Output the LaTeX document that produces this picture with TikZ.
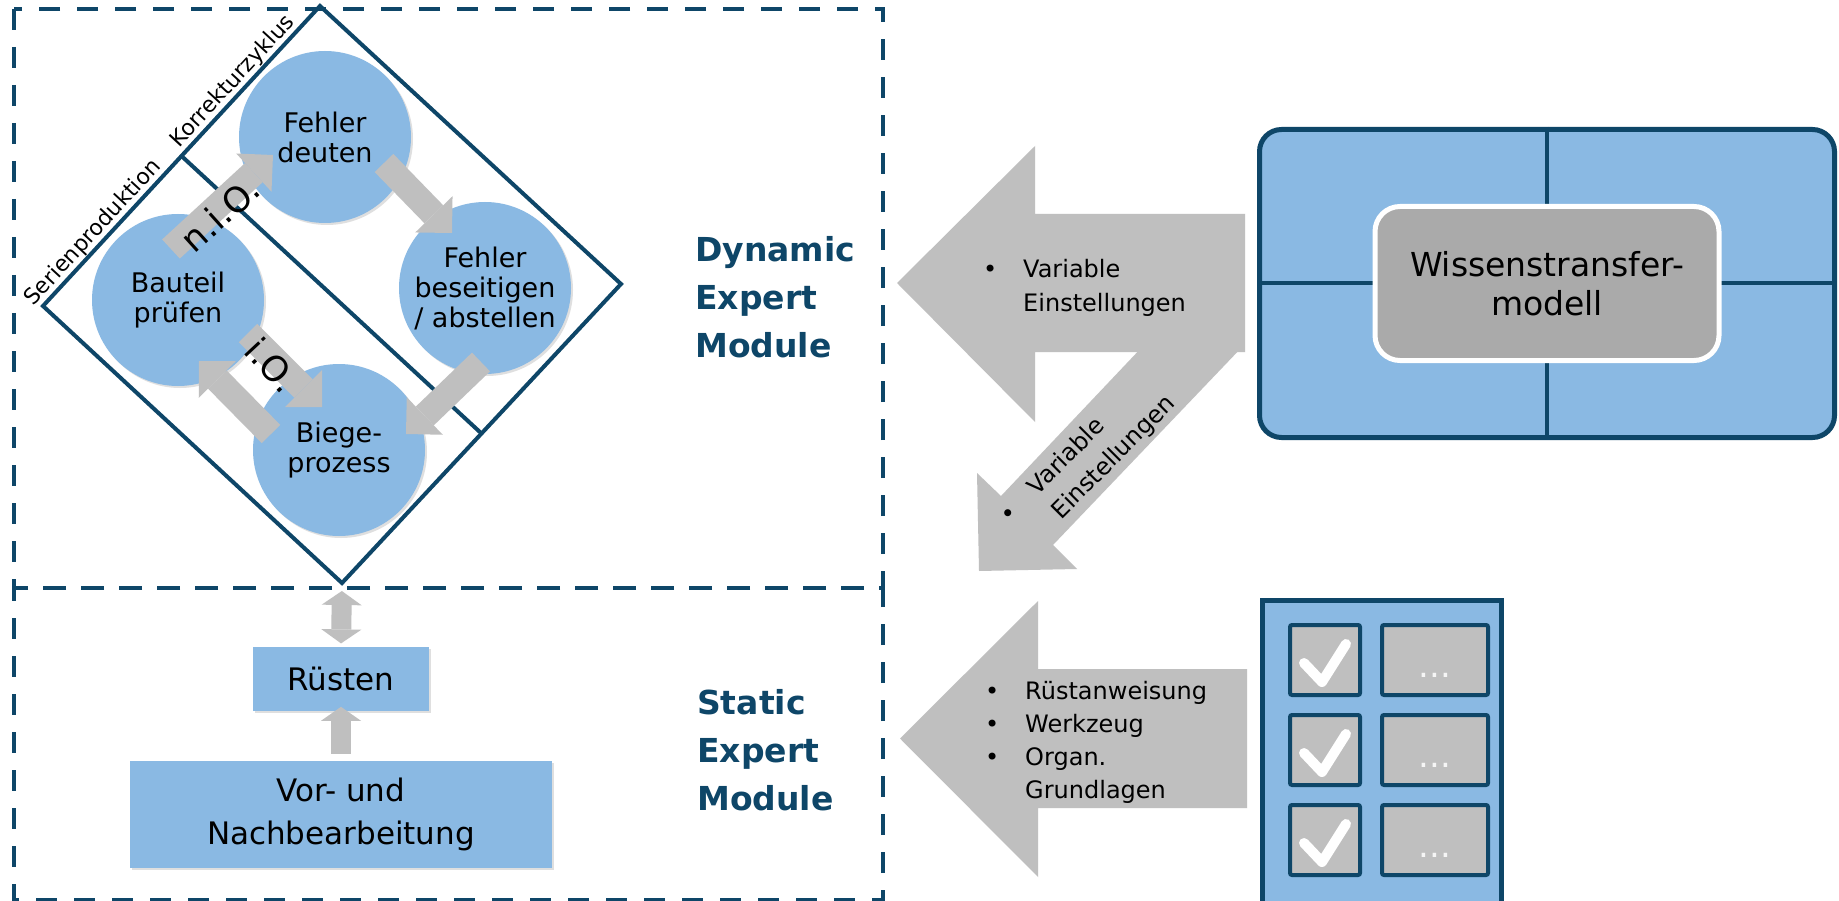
\documentclass[tikz,border=0pt]{standalone}
\usepackage{fontspec}
\setmainfont{DejaVu Sans}
\usetikzlibrary{positioning, arrows.meta, calc, shadows}

\definecolor{modblue}{RGB}{14,70,104}
\definecolor{lightblue}{RGB}{138,185,227}
\definecolor{arrowgray}{RGB}{191,191,191}
\definecolor{modelgray}{RGB}{170,170,170}

\newcommand{\fs}[2]{\fontsize{#1}{#2}\selectfont}
\newcommand{\itm}{\makebox[40pt][l]{\textbullet}}
\newcommand{\noitm}{\hspace*{40pt}}

\begin{document}
\begin{tikzpicture}[
    x=1pt, y=-1pt,
    modframe/.style={draw=modblue, line width=4pt, dash pattern=on 21pt off 17pt},
    cycleline/.style={draw=modblue, line width=4pt},
    softshadow/.style={drop shadow={shadow xshift=2pt, shadow yshift=-2pt, opacity=0.25}},
    stepcircle/.style={
        circle,
        fill=lightblue,
        minimum size=172pt,
        inner sep=0pt,
        align=center,
        font=\fs{27}{30},
        softshadow
    },
    flowarrow/.style={draw=arrowgray, line width=26pt,
        -{Triangle[length=26pt, width=52pt, line width=0pt]}},
    linkarrow/.style={draw=arrowgray, line width=20pt,
        {Triangle[length=14pt, width=40pt, line width=0pt]}-{Triangle[length=14pt, width=40pt, line width=0pt]}},
    uparrow/.style={draw=arrowgray, line width=20pt,
        -{Triangle[length=14pt, width=40pt, line width=0pt]}},
    bigarrow/.style={fill=arrowgray},
    iolabel/.style={font=\fs{35}{35}, inner sep=0pt},
    edgelabel/.style={font=\fs{22}{22}, inner sep=2pt},
    modlabel/.style={font=\fs{33}{48}\bfseries, text=modblue, align=left, inner sep=0pt},
    procbox/.style={rectangle, fill=lightblue, align=center, font=\fs{31}{43}, softshadow},
    listtext/.style={font=\fs{24}{34}, align=left, inner sep=0pt},
    wissbox/.style={rectangle, rounded corners=22pt, draw=modblue, line width=5pt, fill=lightblue,
        minimum width=575pt, minimum height=308pt},
    crossline/.style={draw=modblue, line width=4pt},
    modelbox/.style={rectangle, rounded corners=25pt, draw=white, line width=5pt, fill=modelgray,
        minimum width=344pt, minimum height=154pt, align=center, font=\fs{33}{39}},
    checklist/.style={rectangle, draw=modblue, line width=5pt, fill=lightblue,
        minimum width=239pt, minimum height=309pt},
    cell/.style={rectangle, rounded corners=2pt, draw=modblue, line width=4pt, fill=arrowgray,
        minimum height=70pt, inner sep=0pt},
    dotcell/.style={cell, minimum width=106pt, font=\fs{34}{34}, text=white!92!gray,
        text height=34pt, text depth=0pt},
    checkmark/.style={draw=white, line width=10pt, line cap=round, line join=round}
]

    \path[use as bounding box, fill=white] (0,0) rectangle (1839,901);

    % --- module frames ---
    \draw[modframe] (14,9) rectangle (883,588);
    \draw[modframe, dash phase=8pt] (14,588) rectangle (883,900);

    % --- cycle diamond ---
    \coordinate (dTop)   at (320,6);
    \coordinate (dRight) at (621,284);
    \coordinate (dBot)   at (342,583);
    \coordinate (dLeft)  at (43,306);
    \coordinate (divA) at ($(dLeft)!0.5!(dTop)$);
    \coordinate (divB) at ($(dBot)!0.5!(dRight)$);

    \draw[cycleline] (dTop) -- (dRight) -- (dBot) -- (dLeft) -- cycle;
    \draw[cycleline] (divA) -- (divB);

    \path (divA) -- (dTop) node[edgelabel, pos=0.44, sloped, above] (korr) {Korrekturzyklus};
    \path (dLeft) -- (divA) node[edgelabel, pos=0.43, sloped, above] (serie) {Serienproduktion};

    \node[stepcircle] (deuten)     at (325,137) {Fehler\\deuten};
    \node[stepcircle] (beseitigen) at (485,288) {Fehler\\beseitigen\\/ abstellen};
    \node[stepcircle] (bauteil)    at (178,300) {Bauteil\\prüfen};
    \node[stepcircle] (biege)      at (339,450) {Biege-\\prozess};

    \draw[flowarrow] ([shift={(-7,-51)}]bauteil.center) -- ([shift={(-52,18)}]deuten.center);
    \draw[flowarrow] ([shift={(59,26)}]deuten.center) -- ([shift={(-33,-55)}]beseitigen.center);
    \draw[flowarrow] ([shift={(-4,74)}]beseitigen.center) -- ([shift={(67,-16)}]biege.center);
    \draw[flowarrow] ([shift={(70,33)}]bauteil.center) -- ([shift={(-17,-43)}]biege.center);
    \draw[flowarrow] ([shift={(-68,-16)}]biege.center) -- ([shift={(21,61)}]bauteil.center);

    \node[iolabel, rotate=42] (nio) at (220,214) {n.i.O.};
    \node[iolabel, rotate=-47] (io) at (272,365) {i.O.};

    % --- static part ---
    \node[procbox, minimum width=422pt, minimum height=107pt] (vor) at (341,814.5) {Vor- und\\Nachbearbeitung};
    \node[procbox, minimum width=176pt, minimum height=64pt, above=50pt of vor] (ruesten) {Rüsten};

    \draw[linkarrow, shorten <=8pt, shorten >=3pt] (dBot) -- (ruesten.north);
    \draw[uparrow, shorten <=7pt, shorten >=-4pt] (vor.north) -- (ruesten.south);

    \node[modlabel, anchor=west] (dyn)  at (695,297.5) {Dynamic\\Expert\\Module};
    \node[modlabel, anchor=west] (stat) at (697,750) {Static\\Expert\\Module};

    % --- knowledge transfer model ---
    \node[wissbox] (wiss) at (1547,283.5) {};
    \draw[crossline] (wiss.north) -- (wiss.south);
    \draw[crossline] (wiss.west) -- (wiss.east);
    \node[modelbox] (model) at (wiss.center) {Wissenstransfer-\\modell};

    \fill[bigarrow] (897,283) -- (1035,146) -- (1035,214) -- (1245,214) -- (1245,352)
        -- (1035,352) -- (1035,422) -- cycle;
    \fill[bigarrow] (1144,345) -- (1001,496) -- (977,473) -- (979,571) -- (1077,569)
        -- (1053,545) -- (1244,345) -- cycle;

    \node[listtext, anchor=west] (varlist) at (983,288) {\itm Variable\\\noitm Einstellungen};
    \node[listtext, rotate=45] (varlistb) at (1088,460) {\itm Variable\\\noitm Einstellungen};

    % --- checklist ---
    \fill[bigarrow] (900,738.5) -- (1038,601) -- (1038,669) -- (1247,669) -- (1247,808)
        -- (1038,808) -- (1038,877) -- cycle;
    \node[listtext, font=\fs{24}{33}, anchor=west] (ruestlist) at (985,742)
        {\itm Rüstanweisung\\\itm Werkzeug\\\itm Organ.\\\noitm Grundlagen};

    \node[checklist] (chk) at (1382,755) {};
    \node[cell, minimum width=70pt] (c1) at (1325,660) {};
    \node[cell, minimum width=70pt, below=16pt of c1] (c2) {};
    \node[cell, minimum width=70pt, below=16pt of c2] (c3) {};
    \node[dotcell, right=18pt of c1] (d1) {...};
    \node[dotcell, right=18pt of c2] (d2) {...};
    \node[dotcell, right=18pt of c3] (d3) {...};

    \draw[checkmark] ([shift={(-21,3)}]c1.center) -- ([shift={(-3,22)}]c1.center) -- ([shift={(21,-16)}]c1.center);
    \draw[checkmark] ([shift={(-21,3)}]c2.center) -- ([shift={(-3,22)}]c2.center) -- ([shift={(21,-16)}]c2.center);
    \draw[checkmark] ([shift={(-21,3)}]c3.center) -- ([shift={(-3,22)}]c3.center) -- ([shift={(21,-16)}]c3.center);

\end{tikzpicture}
\end{document}
